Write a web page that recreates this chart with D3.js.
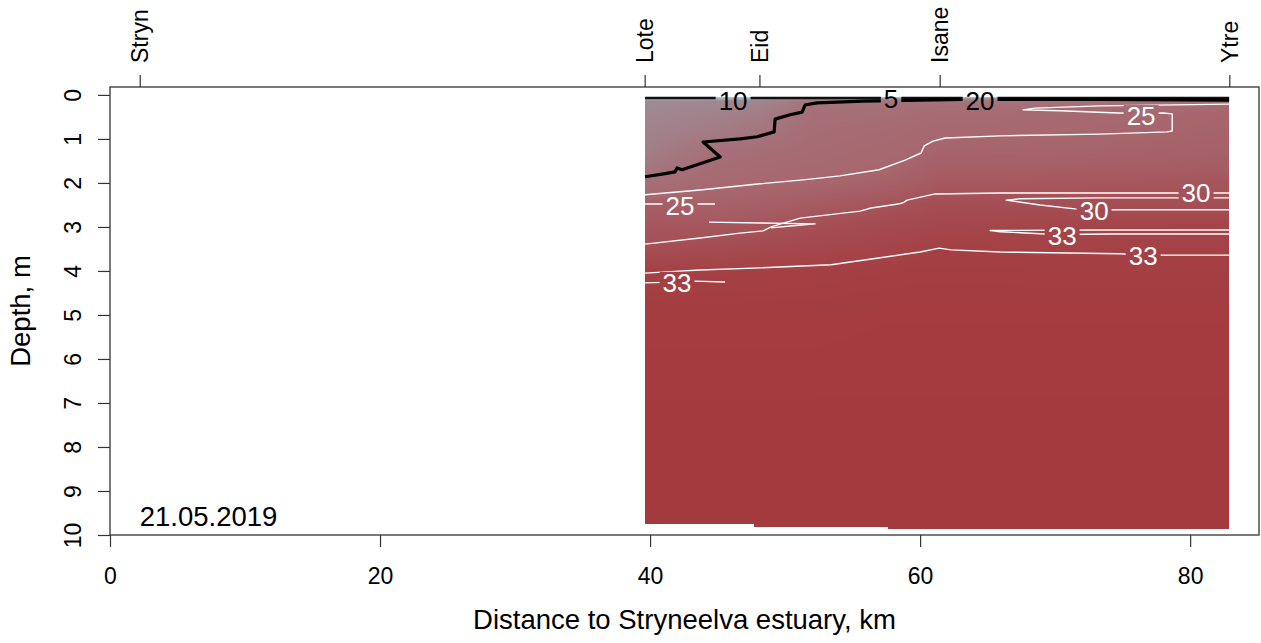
<!DOCTYPE html>
<html><head><meta charset="utf-8">
<script src="https://cdn.jsdelivr.net/npm/d3@7"></script>
<style>
html,body{margin:0;padding:0;background:#fff;}
svg{display:block;font-family:"Liberation Sans",Arial,Helvetica,sans-serif;}
</style>
</head><body>
<svg id="chart" width="1261" height="643"></svg>
<script>
// ---------------- DATA ----------------
const xTicks = [0, 20, 40, 60, 80];
const yTicks = [0, 1, 2, 3, 4, 5, 6, 7, 8, 9, 10];
const stationNames = ["Stryn", "Lote", "Eid", "Isane", "Ytre"];
const stationTickKm = [2.2, 39.6, 48.1, 61.45, 82.9];

// salinity profiles (grid columns)
const stationKm = [39.63, 44.5, 48.1, 52.0, 57.6, 61.5, 70.0, 82.89];
const depthLevels = [0.05, 0.15, 0.4, 0.8, 1.2, 1.6, 2.0, 2.5, 3.0, 3.5, 4.0, 5.0, 7.0, 9.9];
const salLote  = [3, 10, 11.5, 13, 15, 18, 21.5, 27.5, 29, 30.5, 33.1, 33.8, 34.1, 34.4];
const sal44    = [3, 11, 13, 16, 20.5, 22.5, 23.8, 26.5, 29, 31, 33, 33.8, 34.1, 34.4];
const salEid   = [3, 12, 16, 19, 22, 23.5, 24.6, 27, 29.5, 31.5, 33.1, 33.8, 34.1, 34.4];
const sal52    = [3, 19.5, 21.5, 22.5, 23.2, 24, 25.2, 28, 30.5, 32, 33.2, 33.8, 34.1, 34.4];
const sal57    = [3, 19.5, 22, 23.5, 24.2, 25, 26.5, 29.7, 31.5, 32.5, 33.4, 33.9, 34.1, 34.4];
const salIsane = [3, 20, 23, 24.5, 25.5, 27, 28.5, 30.8, 32, 33.1, 33.5, 33.9, 34.1, 34.4];
const sal70    = [4, 20.5, 23.5, 24.7, 25.4, 27, 28.8, 30.5, 32.4, 32.9, 33.4, 33.9, 34.1, 34.4];
const salYtre  = [5, 22, 25.6, 26, 26.6, 27.6, 29.3, 30.6, 32.5, 32.9, 33.4, 33.9, 34.1, 34.4];

// bottom of measured section (steps)
const bottomStartKm = [39.63, 47.7, 57.6];
const bottomDepth = [9.75, 9.82, 9.86];
const sectionEndKm = 82.89;
const sectionTopDepth = 0.05;

// colour key: salinity -> colour
const salStops = [3, 10, 15, 20, 25, 28, 30, 32, 33.5, 34.5];
const salColors = ["#a9cde0", "#9f8a93", "#a27f89", "#a5737c", "#a7676e", "#a65b62", "#a55157", "#a4474c", "#a43e42", "#a3393c"];

// contour lines [km, depth]
const contourSurface = [[39.63, 0.07], [82.89, 0.07]];
const contour20 = [[39.63,1.86],[40.89,1.80],[41.85,1.75],[42.0,1.66],[42.37,1.70],[45.19,1.41],[43.93,1.07],[46.67,1.0],[47.93,0.95],[49.19,0.84],[49.26,0.55],[50.37,0.45],[51.26,0.39],[51.48,0.23],[52.37,0.18],[55.78,0.14],[63.19,0.10],[73.33,0.10],[82.89,0.12]];
const contour25a = [[39.63,2.27],[43.70,2.16],[48.15,2.02],[51.33,1.93],[54.07,1.84],[56.96,1.70],[58.89,1.48],[60.07,1.32],[60.30,1.16],[60.96,1.05],[61.85,0.98],[65.93,0.93],[73.33,0.89],[78.30,0.84],[78.67,0.82],[78.67,0.43],[78.0,0.41],[76.4,0.42],[74.67,0.41],[70.37,0.36],[67.63,0.34],[68.52,0.30],[73.33,0.25],[82.89,0.21]];
const contour25b = [[39.63,2.48],[42.2,2.48],[44.81,2.48]];
const contour25c = [[44.37,2.89],[48.15,2.91],[52.22,2.93],[50.37,2.98],[48.96,3.02]];
const contour30a = [[39.63,3.39],[43.70,3.25],[46.67,3.14],[48.37,3.09],[48.96,3.0],[51.11,2.80],[55.56,2.64],[56.37,2.57],[58.37,2.48],[58.74,2.45],[59.04,2.39],[61.11,2.25],[65.93,2.23],[80.4,2.23],[82.89,2.23]];
const contour30b = [[82.89,2.34],[73.33,2.34],[67.41,2.36],[66.37,2.39],[68.89,2.50],[71.48,2.59],[72.9,2.62],[74.44,2.61],[82.89,2.61]];
const contour33a = [[82.89,3.07],[73.33,3.07],[65.19,3.08],[65.93,3.11],[69.26,3.16],[70.5,3.17],[74.0,3.16],[82.89,3.16]];
const contour33b = [[39.63,4.05],[43.70,3.98],[48.15,3.93],[53.41,3.86],[57.04,3.70],[60.0,3.57],[61.41,3.48],[62.30,3.52],[65.93,3.57],[74.81,3.61],[76.5,3.64],[78.15,3.64],[82.89,3.64]];
const contour33c = [[39.63,4.27],[41.0,4.26],[42.0,4.26],[43.33,4.23],[45.56,4.25]];

// contour labels
const labelText  = ["10", "5", "20", "25", "25", "30", "30", "33", "33", "33"];
const labelKm    = [46.15, 57.85, 64.44, 76.37, 42.22, 80.44, 72.89, 70.52, 76.52, 42.0];
const labelDepth = [0.14, 0.09, 0.14, 0.48, 2.52, 2.23, 2.64, 3.20, 3.66, 4.27];

const dateText = "21.05.2019";
const dateKm = 2.2, dateDepth = 9.8;
const xTitle = "Distance to Stryneelva estuary, km";
const yTitle = "Depth, m";

// ---------------- CHART ----------------
const W = 1261, H = 643;
const svg = d3.select("#chart");
const x = d3.scaleLinear().domain([0, 85.1]).range([110, 1259]);
const y = d3.scaleLinear().domain([-0.18, 10]).range([87, 535]);

const salGrid = [salLote, sal44, salEid, sal52, sal57, salIsane, sal70, salYtre];
const color = d3.scaleLinear().domain(salStops).range(salColors).interpolate(d3.interpolateRgb).clamp(true);
const lut = d3.range(0, 3601).map(i => d3.rgb(color(i / 100)));

function salAt(km, d) {
  let i = Math.max(0, Math.min(stationKm.length - 2, d3.bisectRight(stationKm, km) - 1));
  let j = Math.max(0, Math.min(depthLevels.length - 2, d3.bisectRight(depthLevels, d) - 1));
  let t = Math.max(0, Math.min(1, (km - stationKm[i]) / (stationKm[i + 1] - stationKm[i])));
  let u = Math.max(0, Math.min(1, (d - depthLevels[j]) / (depthLevels[j + 1] - depthLevels[j])));
  const a = salGrid[i][j], b = salGrid[i + 1][j], c = salGrid[i][j + 1], e = salGrid[i + 1][j + 1];
  return (1 - t) * (1 - u) * a + t * (1 - u) * b + (1 - t) * u * c + t * u * e;
}

// raster of the section
const canvas = document.createElement("canvas");
canvas.width = W; canvas.height = H;
const ctx = canvas.getContext("2d");
const img = ctx.createImageData(W, H);
const x0 = Math.round(x(stationKm[0])), x1 = Math.round(x(sectionEndKm));
const yTop = Math.round(y(sectionTopDepth));
for (let px = x0; px < x1; px++) {
  const km = x.invert(px + 0.5);
  const bi = Math.max(0, d3.bisectRight(bottomStartKm, km) - 1);
  const yb = Math.round(y(bottomDepth[bi]));
  for (let py = yTop; py < yb; py++) {
    const d = y.invert(py + 0.5);
    const s = salAt(km, d);
    const c = lut[Math.max(0, Math.min(3600, Math.round(s * 100)))];
    const k = (py * W + px) * 4;
    img.data[k] = c.r; img.data[k + 1] = c.g; img.data[k + 2] = c.b; img.data[k + 3] = 255;
  }
}
ctx.putImageData(img, 0, 0);
svg.append("image").attr("x", 0).attr("y", 0).attr("width", W).attr("height", H)
  .attr("href", canvas.toDataURL());

// label mask
const labelFont = 26;
const defs = svg.append("defs");
const mask = defs.append("mask").attr("id", "lblmask").attr("maskUnits", "userSpaceOnUse")
  .attr("x", 0).attr("y", 0).attr("width", W).attr("height", H);
mask.append("rect").attr("width", W).attr("height", H).attr("fill", "#fff");
labelText.forEach((t, i) => {
  const w = t.length * 0.556 * labelFont + 6;
  mask.append("rect").attr("x", x(labelKm[i]) - w / 2).attr("y", y(labelDepth[i]) - 11)
    .attr("width", w).attr("height", 22).attr("fill", "#000");
});

const line = d3.line().x(d => x(d[0])).y(d => y(d[1]));
const lines = [
  {pts: contourSurface, stroke: "#111", w: 2.4},
  {pts: contour20, stroke: "#000", w: 3.2},
  {pts: contour25a, stroke: "#fff", w: 1.4},
  {pts: contour25b, stroke: "#fff", w: 1.4},
  {pts: contour25c, stroke: "#fff", w: 1.4},
  {pts: contour30a, stroke: "#fff", w: 1.4},
  {pts: contour30b, stroke: "#fff", w: 1.4},
  {pts: contour33a, stroke: "#fff", w: 1.4},
  {pts: contour33b, stroke: "#fff", w: 1.4},
  {pts: contour33c, stroke: "#fff", w: 1.4}
];
const gl = svg.append("g").attr("mask", "url(#lblmask)");
lines.forEach(l => gl.append("path").attr("d", line(l.pts)).attr("fill", "none")
  .attr("stroke", l.stroke).attr("stroke-width", l.w).attr("stroke-linejoin", "round"));

svg.append("g").selectAll("text").data(labelText).join("text")
  .attr("x", (d, i) => x(labelKm[i])).attr("y", (d, i) => y(labelDepth[i]))
  .attr("dy", "0.36em").attr("text-anchor", "middle")
  .attr("font-size", labelFont)
  .attr("fill", d => (+d < 25 ? "#000" : "#fff"))
  .text(d => d);

// box
svg.append("rect").attr("x", 110).attr("y", 87).attr("width", 1259 - 110).attr("height", 535 - 87)
  .attr("fill", "none").attr("stroke", "#333").attr("stroke-width", 1.3);

const tickFont = 23, axisCol = "#333";
// bottom axis
const gx = svg.append("g").attr("transform", "translate(0,535)")
  .call(d3.axisBottom(x).tickValues(xTicks).tickSize(12).tickPadding(21).tickFormat(d3.format("d")));
gx.select(".domain").remove();
gx.selectAll("line").attr("stroke", axisCol).attr("stroke-width", 1.2);
gx.selectAll("text").attr("font-size", tickFont).attr("fill", "#000").attr("font-family", null);

// left axis
const gy = svg.append("g").attr("transform", "translate(110,0)")
  .call(d3.axisLeft(y).tickValues(yTicks).tickSize(12).tickFormat(d3.format("d")));
gy.select(".domain").remove();
gy.selectAll("line").attr("stroke", axisCol).attr("stroke-width", 1.2);
gy.selectAll("text").attr("font-size", tickFont).attr("fill", "#000").attr("font-family", null)
  .attr("x", 0).attr("dy", null).attr("y", -29).attr("text-anchor", "middle")
  .attr("transform", "rotate(-90)");

// top axis (stations)
const gt = svg.append("g").attr("transform", "translate(0,87)")
  .call(d3.axisTop(x).tickValues(stationTickKm).tickSize(12).tickFormat((d, i) => stationNames[i]));
gt.select(".domain").remove();
gt.selectAll("line").attr("stroke", axisCol).attr("stroke-width", 1.2);
gt.selectAll("text").attr("font-size", tickFont).attr("fill", "#000").attr("font-family", null)
  .attr("text-anchor", "start").attr("dy", null)
  .attr("x", 24).attr("y", 8).attr("transform", "rotate(-90)");

// titles
svg.append("text").attr("x", (110 + 1259) / 2).attr("y", 629).attr("text-anchor", "middle")
  .attr("font-size", 27.5).text(xTitle);
svg.append("text").attr("transform", `translate(30,${(87 + 535) / 2}) rotate(-90)`)
  .attr("text-anchor", "middle").attr("font-size", 27.5).text(yTitle);
svg.append("text").attr("x", x(dateKm)).attr("y", y(dateDepth)).attr("font-size", 27.5).text(dateText);
</script>
</body></html>
